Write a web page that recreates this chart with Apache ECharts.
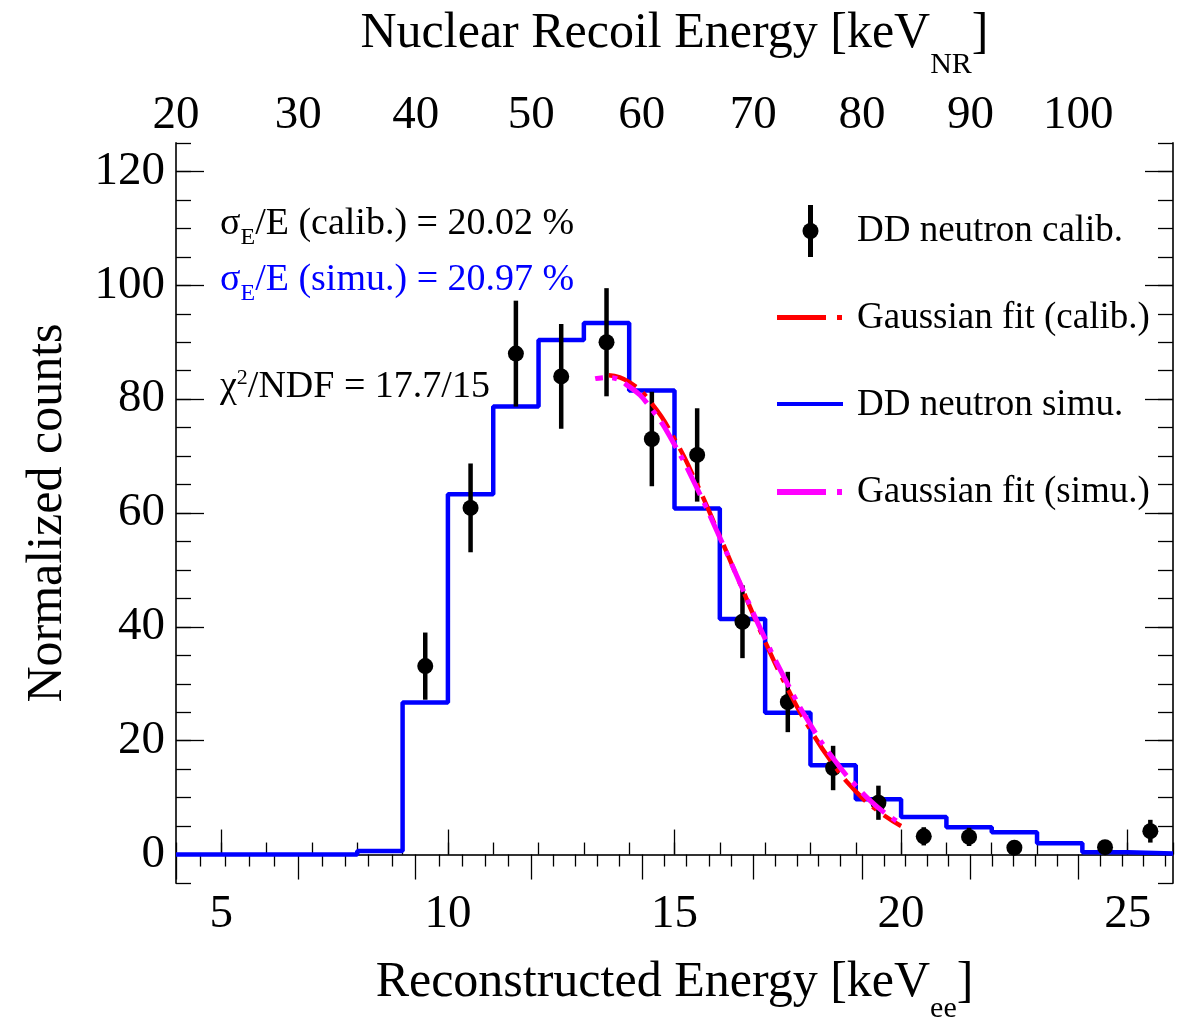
<!DOCTYPE html>
<html>
<head>
<meta charset="utf-8">
<script src="https://cdn.jsdelivr.net/npm/echarts@6/dist/echarts.min.js"></script>
<style>
  html, body { margin: 0; padding: 0; background: #fff; }
  #chart { width: 1184px; height: 1019px; }
</style>
</head>
<body>
<div id="chart"></div>
<script>
// ---- Data -------------------------------------------------------------
// Histogram bin edges of the simulated spectrum (keV_ee)
const binEdges = [4, 5, 6, 7, 8, 9, 10, 11, 12, 13, 14, 15, 16, 17, 18, 19, 20, 21, 22, 23, 24, 25, 26];
// DD neutron simulation: normalized counts per 1 keV_ee bin
const simuCounts = [0, 0, 0, 0, 0.6, 26.7, 63.3, 78.7, 90.4, 93.4, 81.5, 60.8, 41.4, 24.9, 15.7, 9.7, 6.6, 4.8, 3.9, 2.0, 0.4, 0.2];

// DD neutron calibration data: bin centres, counts and statistical errors
const calibE = [9.5, 10.5, 11.5, 12.5, 13.5, 14.5, 15.5, 16.5, 17.5, 18.5, 19.5, 20.5, 21.5, 22.5, 24.5, 25.5];
const calibCounts = [33.1, 60.9, 88.0, 84.0, 90.0, 73.0, 70.2, 40.9, 26.8, 15.2, 9.1, 3.2, 3.1, 1.2, 1.3, 4.1];
const calibErr = [5.9, 7.8, 9.3, 9.2, 9.5, 8.3, 8.2, 6.4, 5.3, 3.9, 3.0, 1.6, 1.6, 1.0, 1.0, 2.0];

// Gaussian fit to the calibration data
const fitCalibE = [13.55, 14.0, 14.5, 15.0, 15.5, 16.0, 16.5, 17.0, 17.5, 18.0, 18.5, 19.0, 19.5, 20.0];
const fitCalibY = [84.2, 83.0, 79.2, 73.0, 65.0, 55.9, 46.6, 37.4, 29.1, 21.9, 15.9, 11.1, 7.6, 5.0];
// Gaussian fit to the simulated spectrum
const fitSimuE = [13.25, 13.5, 14.0, 14.5, 15.0, 15.5, 16.0, 16.5, 17.0, 17.5, 18.0, 18.5, 19.0, 19.5, 20.0];
const fitSimuY = [83.6, 83.8, 82.2, 78.2, 72.0, 64.3, 55.7, 46.7, 37.9, 29.9, 22.8, 16.9, 12.1, 8.2, 5.4];

// Axis ticks
const xMajorTicks = [5, 10, 15, 20, 25];
const yMajorTicks = [0, 20, 40, 60, 80, 100, 120];
// Nuclear-recoil scale (top axis): labels and their keV_ee positions
const nrMajorLabels = [20, 30, 40, 50, 60, 70, 80, 90, 100];
const nrMajorAtEe = [4.0, 6.70, 9.29, 11.84, 14.28, 16.74, 19.14, 21.53, 23.91];
const nrMinorAtEe = [4.54, 5.08, 5.62, 6.16, 7.22, 7.74, 8.25, 8.77, 9.80, 10.31, 10.82, 11.33,
  12.33, 12.82, 13.30, 13.79, 14.77, 15.26, 15.76, 16.25, 17.22, 17.70, 18.18, 18.66,
  19.62, 20.10, 20.57, 21.05, 22.01, 22.48, 22.96, 23.44, 24.39, 24.87, 25.34, 25.82];

// ---- Styling ----------------------------------------------------------
const FONT = '"Liberation Serif", "DejaVu Serif", serif';
const FRAME = { show: true, lineStyle: { color: '#333', width: 2 } };
const TICK_STYLE = { color: '#000', width: 1.3 };

const histData = binEdges.map((e, i) => [e, simuCounts[Math.min(i, simuCounts.length - 1)]]);

function nrLabel(v) {
  let best = 0;
  for (let i = 1; i < nrMajorAtEe.length; i++) {
    if (Math.abs(nrMajorAtEe[i] - v) < Math.abs(nrMajorAtEe[best] - v)) best = i;
  }
  return String(nrMajorLabels[best]);
}

const tickLabel = { fontSize: 47, fontFamily: FONT, color: '#000' };
function nameStyle(subDrop) {
  return {
    fontSize: 50, fontFamily: FONT, color: '#000',
    rich: {
      sub: { fontSize: 30, fontFamily: FONT, color: '#000', padding: [subDrop, 0, 0, 0] }
    }
  };
}

const xBase = { type: 'value', min: 4, max: 26, splitLine: { show: false } };
const yBase = { type: 'value', min: -5, max: 125, splitLine: { show: false } };

const chart = echarts.init(document.getElementById('chart'), null, { renderer: 'canvas' });

chart.setOption({
  animation: false,
  backgroundColor: '#fff',
  grid: { left: 176, top: 143, width: 997, height: 740, containLabel: false, outerBoundsMode: 'none' },
  xAxis: [
    Object.assign({}, xBase, {
      position: 'bottom', interval: 1,
      axisLine: FRAME,
      axisTick: { show: true, inside: true, length: 12, lineStyle: TICK_STYLE },
      axisLabel: Object.assign({ show: true, customValues: xMajorTicks, margin: 8 }, tickLabel),
      name: 'Reconstructed Energy [keV{sub|ee}]',
      nameLocation: 'middle', nameGap: 59,
      nameTextStyle: nameStyle(52)
    }),
    Object.assign({}, xBase, {
      position: 'bottom',
      axisLine: { show: false },
      axisTick: { show: true, inside: true, length: 25, customValues: xMajorTicks, lineStyle: TICK_STYLE },
      axisLabel: { show: false }
    }),
    Object.assign({}, xBase, {
      position: 'top',
      axisLine: FRAME,
      axisTick: { show: true, inside: true, length: 25, customValues: nrMajorAtEe, lineStyle: TICK_STYLE },
      axisLabel: Object.assign({ show: true, customValues: nrMajorAtEe, margin: 4, formatter: nrLabel }, tickLabel),
      name: 'Nuclear Recoil Energy [keV{sub|NR}]',
      nameLocation: 'middle', nameGap: 63,
      nameTextStyle: nameStyle(62)
    }),
    Object.assign({}, xBase, {
      position: 'top',
      axisLine: { show: false },
      axisTick: { show: true, inside: true, length: 12, customValues: nrMinorAtEe, lineStyle: TICK_STYLE },
      axisLabel: { show: false }
    })
  ],
  yAxis: [
    Object.assign({}, yBase, {
      position: 'left', interval: 5,
      axisLine: FRAME,
      axisTick: { show: true, inside: true, length: 15, lineStyle: TICK_STYLE },
      axisLabel: Object.assign({ show: true, customValues: yMajorTicks, margin: 11 }, tickLabel),
      name: 'Normalized counts',
      nameLocation: 'middle', nameGap: 103,
      nameTextStyle: { fontSize: 50, fontFamily: FONT, color: '#000' }
    }),
    Object.assign({}, yBase, {
      position: 'left',
      axisLine: { show: false },
      axisTick: { show: true, inside: true, length: 28, customValues: yMajorTicks, lineStyle: TICK_STYLE },
      axisLabel: { show: false }
    }),
    Object.assign({}, yBase, {
      position: 'right', interval: 5,
      axisLine: FRAME,
      axisTick: { show: true, inside: true, length: 15, lineStyle: TICK_STYLE },
      axisLabel: { show: false }
    }),
    Object.assign({}, yBase, {
      position: 'right',
      axisLine: { show: false },
      axisTick: { show: true, inside: true, length: 28, customValues: yMajorTicks, lineStyle: TICK_STYLE },
      axisLabel: { show: false }
    })
  ],
  series: [
    {
      name: 'DD neutron simu.',
      type: 'line', xAxisIndex: 0, yAxisIndex: 0,
      step: 'end', showSymbol: false, symbol: 'none',
      data: histData,
      lineStyle: { color: '#0000ff', width: 4.5 },
      z: 2
    },
    {
      name: 'DD neutron calib. errors',
      type: 'custom', xAxisIndex: 0, yAxisIndex: 0,
      data: calibE.map((e, i) => [e, calibCounts[i] - calibErr[i], calibCounts[i] + calibErr[i]]),
      encode: { x: 0, y: [1, 2] },
      renderItem: function (params, api) {
        const lo = api.coord([api.value(0), api.value(1)]);
        const hi = api.coord([api.value(0), api.value(2)]);
        return {
          type: 'line',
          shape: { x1: lo[0], y1: lo[1], x2: hi[0], y2: hi[1] },
          style: { stroke: '#000', lineWidth: 4.5 }
        };
      },
      z: 3
    },
    {
      name: 'DD neutron calib.',
      type: 'scatter', xAxisIndex: 0, yAxisIndex: 0,
      symbol: 'circle', symbolSize: 16,
      data: calibE.map((e, i) => [e, calibCounts[i]]),
      itemStyle: { color: '#000', opacity: 1 },
      z: 4
    },
    {
      name: 'Gaussian fit (calib.)',
      type: 'line', xAxisIndex: 0, yAxisIndex: 0,
      smooth: true, showSymbol: false, symbol: 'none',
      data: fitCalibE.map((e, i) => [e, fitCalibY[i]]),
      lineStyle: { color: '#ff0000', width: 4.5, type: [30, 9, 5, 9] },
      z: 5
    },
    {
      name: 'Gaussian fit (simu.)',
      type: 'line', xAxisIndex: 0, yAxisIndex: 0,
      smooth: true, showSymbol: false, symbol: 'none',
      data: fitSimuE.map((e, i) => [e, fitSimuY[i]]),
      lineStyle: { color: '#ff00ff', width: 5, type: [30, 9, 5, 9], dashOffset: 22 },
      z: 6
    }
  ],
  graphic: [
    // Resolution and goodness-of-fit annotations
    {
      type: 'text', x: 220, y: 224,
      style: {
        text: 'σ{sub|E}/E (calib.) = 20.02 %',
        fontSize: 38, fontFamily: FONT, fill: '#000', verticalAlign: 'middle',
        rich: { sub: { fontSize: 24, fontFamily: FONT, fill: '#000', padding: [28, 0, 0, 0] } }
      }
    },
    {
      type: 'text', x: 220, y: 280,
      style: {
        text: 'σ{sub|E}/E (simu.) = 20.97 %',
        fontSize: 38, fontFamily: FONT, fill: '#0000ff', verticalAlign: 'middle',
        rich: { sub: { fontSize: 24, fontFamily: FONT, fill: '#0000ff', padding: [28, 0, 0, 0] } }
      }
    },
    {
      type: 'text', x: 220, y: 387,
      style: {
        text: 'χ{sup|2}/NDF = 17.7/15',
        fontSize: 38, fontFamily: FONT, fill: '#000', verticalAlign: 'middle',
        rich: { sup: { fontSize: 22, fontFamily: FONT, fill: '#000', padding: [0, 0, 18, 0] } }
      }
    },
    // Legend
    { type: 'rect', shape: { x: 808, y: 205, width: 5, height: 52 }, style: { fill: '#000' } },
    { type: 'circle', shape: { cx: 810.5, cy: 231, r: 8 }, style: { fill: '#000' } },
    { type: 'text', x: 857, y: 231, style: { text: 'DD neutron calib.', fontSize: 37, fontFamily: FONT, fill: '#000', verticalAlign: 'middle' } },

    { type: 'rect', shape: { x: 777, y: 315, width: 49, height: 5 }, style: { fill: '#ff0000' } },
    { type: 'rect', shape: { x: 837, y: 315, width: 5, height: 5 }, style: { fill: '#ff0000' } },
    { type: 'text', x: 857, y: 318, style: { text: 'Gaussian fit (calib.)', fontSize: 37, fontFamily: FONT, fill: '#000', verticalAlign: 'middle' } },

    { type: 'rect', shape: { x: 777, y: 402, width: 66, height: 4 }, style: { fill: '#0000ff' } },
    { type: 'text', x: 857, y: 405, style: { text: 'DD neutron simu.', fontSize: 37, fontFamily: FONT, fill: '#000', verticalAlign: 'middle' } },

    { type: 'rect', shape: { x: 777, y: 489, width: 49, height: 6 }, style: { fill: '#ff00ff' } },
    { type: 'rect', shape: { x: 837, y: 489, width: 5, height: 6 }, style: { fill: '#ff00ff' } },
    { type: 'text', x: 857, y: 492, style: { text: 'Gaussian fit (simu.)', fontSize: 37, fontFamily: FONT, fill: '#000', verticalAlign: 'middle' } }
  ]
});
</script>
</body>
</html>
